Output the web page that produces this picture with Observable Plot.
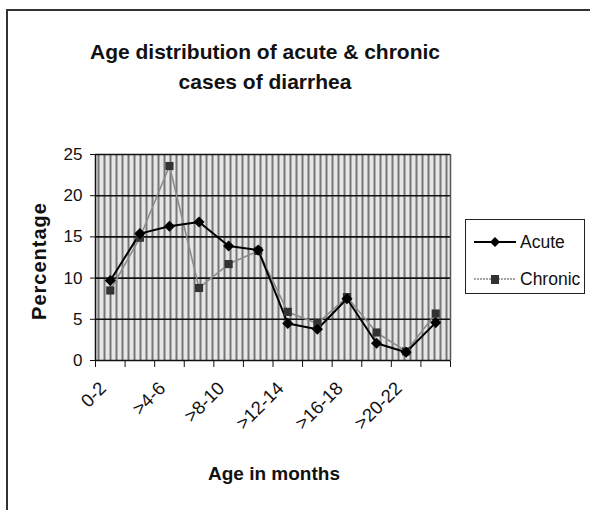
<!DOCTYPE html>
<html><head><meta charset="utf-8">
<script src="https://cdn.jsdelivr.net/npm/d3@7"></script>
<script src="https://cdn.jsdelivr.net/npm/@observablehq/plot@0.6"></script>
<style>
body{margin:0;background:#fff;}
#wrap{position:relative;width:590px;height:510px;overflow:hidden;font-family:"Liberation Sans",Arial,sans-serif;background:#fff;color:#111;}
#border{position:absolute;left:6px;top:9px;width:620px;height:540px;border:2px solid #333;box-sizing:border-box;}
#title{position:absolute;left:75px;width:380px;top:37px;text-align:center;font-weight:bold;font-size:21px;line-height:30px;}
#ylab{position:absolute;left:39px;top:261px;transform:translate(-50%,-50%) rotate(-90deg);font-weight:bold;font-size:20px;letter-spacing:1px;white-space:nowrap;}
#xlab{position:absolute;left:274px;top:474px;transform:translate(-50%,-50%);font-weight:bold;font-size:19px;white-space:nowrap;}
#chart{position:absolute;left:0;top:120px;}
#legend{position:absolute;left:465px;top:219px;width:120px;height:75px;border:1px solid #222;box-sizing:border-box;background:#fff;}
.item{position:absolute;left:6px;height:20px;display:flex;align-items:center;font-size:17.5px;}
.item svg{margin-right:4px;}
</style></head>
<body>
<svg width="0" height="0" style="position:absolute">
  <defs>
    <pattern id="hatch" patternUnits="userSpaceOnUse" width="6" height="6">
      <rect width="6" height="6" fill="#e6e6e6"/>
      <line x1="2" y1="0" x2="2" y2="6" stroke="#505050" stroke-width="1.5"/>
    </pattern>
  </defs>
</svg>
<div id="wrap">
  <div id="border"></div>
  <div id="title">Age distribution of acute &amp; chronic<br>cases of diarrhea</div>
  <div id="ylab">Percentage</div>
  <div id="xlab">Age in months</div>
  <div id="chart"></div>
  <div id="legend">
    <div class="item" style="top:12px">
      <svg width="44" height="14"><line x1="2" y1="7" x2="44" y2="7" stroke="#000" stroke-width="2"/><path d="M23,2 L28,7 L23,12 L18,7 Z" fill="#000"/></svg>
      <span>Acute</span>
    </div>
    <div class="item" style="top:49px">
      <svg width="44" height="14"><line x1="2" y1="7" x2="44" y2="7" stroke="#888" stroke-width="1.5" stroke-dasharray="2,1"/><rect x="19" y="3" width="8" height="9" fill="#333"/></svg>
      <span>Chronic</span>
    </div>
  </div>
</div>
<script>
const categories = ["0-2", ">2-4", ">4-6", ">6-8", ">8-10", ">10-12", ">12-14", ">14-16", ">16-18", ">18-20", ">20-22", ">22-24"];
const acute = [9.7, 15.4, 16.3, 16.8, 13.9, 13.4, 4.5, 3.8, 7.5, 2.1, 1.0, 4.6];
const chronic = [8.5, 14.9, 23.6, 8.8, 11.7, 13.3, 5.9, 4.5, 7.7, 3.4, 1.1, 5.7];
const yTicks = [0, 5, 10, 15, 20, 25];
const labelEvery = 2;

const idx = categories.map((c, i) => i);
const bounds = categories.map((c, i) => i - 0.5).concat([categories.length - 0.5]);
const labelIdx = idx.filter(i => i % labelEvery === 0);
const acuteData = idx.map(i => ({i, v: acute[i]}));
const chronicData = idx.map(i => ({i, v: chronic[i]}));
const diamond = d3.symbolDiamond2 || "diamond";

const chart = Plot.plot({
  width: 460,
  height: 330,
  marginLeft: 95,
  marginRight: 10,
  marginTop: 34,
  marginBottom: 90,
  style: {fontFamily: '"Liberation Sans", Arial, sans-serif', fontSize: "17px", color: "#111", background: "transparent"},
  x: {type: "linear", domain: [-0.5, categories.length - 0.5], ticks: bounds, tickFormat: () => "", tickSize: 7, label: null},
  y: {domain: [0, 25], ticks: yTicks, tickSize: 5, tickPadding: 8, label: null},
  marks: [
    Plot.frame({fill: "url(#hatch)", stroke: "none"}),
    Plot.ruleY(yTicks, {stroke: "#111", strokeWidth: 1.6}),
    Plot.ruleX([bounds[0]], {stroke: "#111", strokeWidth: 1.5}),
    Plot.ruleX([bounds[bounds.length - 1]], {stroke: "#555", strokeWidth: 1.5}),
    Plot.line(chronicData, {x: "i", y: "v", stroke: "#8c8c8c", strokeWidth: 1.6}),
    Plot.line(acuteData, {x: "i", y: "v", stroke: "#000", strokeWidth: 2}),
    Plot.dot(chronicData, {x: "i", y: "v", symbol: "square", r: 4.6, fill: "#333", stroke: "none"}),
    Plot.dot(acuteData, {x: "i", y: "v", symbol: diamond, r: 5, fill: "#000", stroke: "none"}),
    Plot.text(labelIdx, {x: d => d, frameAnchor: "bottom", text: d => categories[d], rotate: -45, textAnchor: "end", dx: -3, dy: 29, fontSize: 18.5, fill: "#111"})
  ]
});
document.getElementById("chart").appendChild(chart);
</script>
</body></html>
